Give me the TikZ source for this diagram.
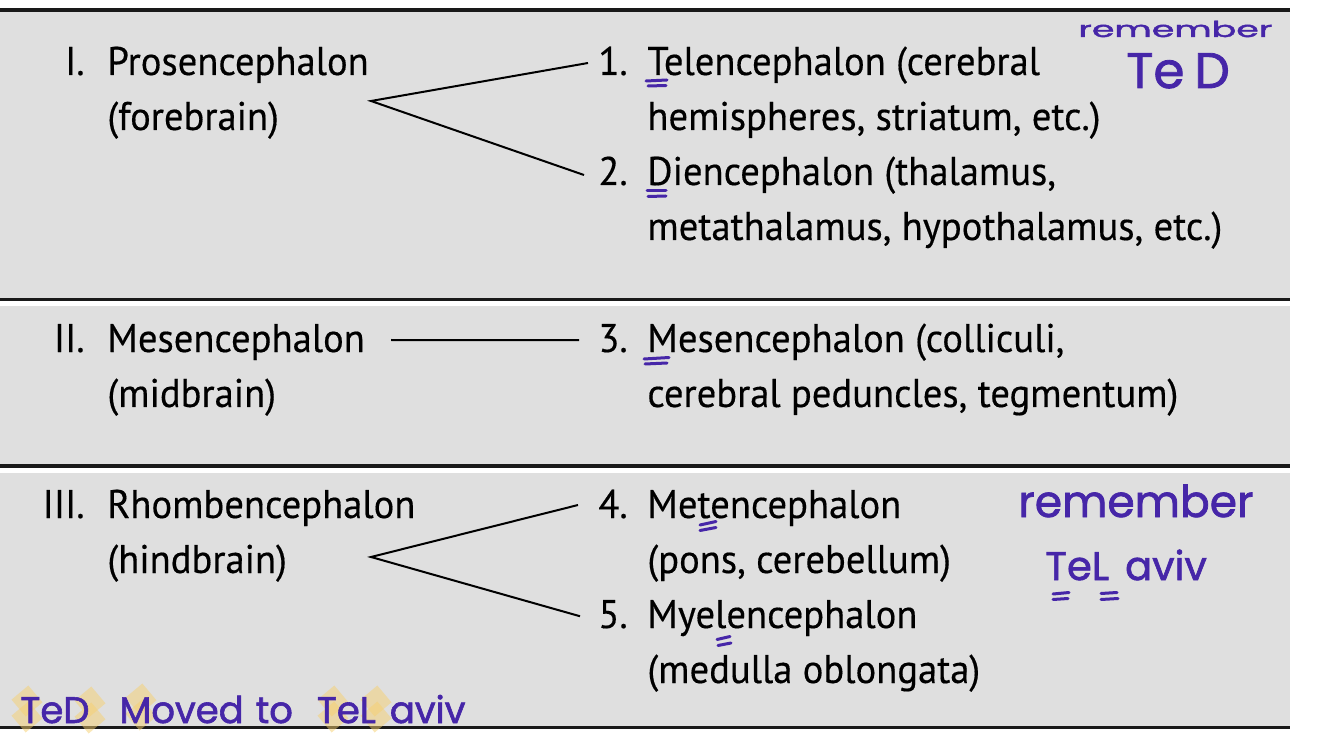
\documentclass[tikz,border=0pt]{standalone}
\usepackage{graphicx}
\usepackage{fontspec}
\setmainfont[FakeStretch=0.965,FakeBold=0.35]{PT Sans}
\newfontfamily\handfont[FakeBold=1.6]{Poppins}
\usetikzlibrary{calc}
\definecolor{bandgray}{RGB}{223,223,223}
\definecolor{ink}{RGB}{70,38,168}
\definecolor{hl}{RGB}{246,208,112}
\begin{document}
\begin{tikzpicture}[x=0.5pt,y=-0.5pt,
  txt/.style={anchor=base west,inner sep=0pt,font=\fontsize{20}{24}\selectfont},
  rnum/.style={anchor=base east,inner sep=0pt,font=\fontsize{20}{24}\selectfont},
  lnum/.style={anchor=base west,inner sep=0pt,font=\fontsize{20}{24}\selectfont},
  conn/.style={line width=1pt,black},
  sepline/.style={line width=1.75pt,black!90},
  inkstroke/.style={line width=1.5pt,ink,line cap=round},
  inktext/.style={anchor=base west,inner sep=0pt,text=ink},
  hlblob/.style={fill=hl,opacity=0.5}]
\useasboundingbox (0,0) rectangle (1334,743);
% bands
\fill[bandgray] (0,11) rectangle (1290,298);
\fill[bandgray] (0,306) rectangle (1290,464);
\fill[bandgray] (0,473) rectangle (1290,726);
\draw[sepline] (0,10) -- (1290,10);
\draw[sepline] (0,299.3) -- (1290,299.3);
\draw[sepline] (0,466) -- (1290,466);
\draw[sepline] (0,727.3) -- (1290,727.3);
% left column
\node[rnum] (r1) at (85,75) {I.};
\node[txt] (l1a) at (107,75) {Prosencephalon};
\node[txt] (l1b) at (107,130) {(forebrain)};
\node[rnum] (r2) at (85,352) {II.};
\node[txt] (l2a) at (107,352) {Mesencephalon};
\node[txt] (l2b) at (107,407) {(midbrain)};
\node[rnum] (r3) at (85,518) {III.};
\node[txt] (l3a) at (107,518) {Rhombencephalon};
\node[txt] (l3b) at (107,573) {(hindbrain)};
% right column
\node[lnum] (n1) at (598,75) {1.};
\node[txt] (t1a) at (647,75) {Telencephalon (cerebral};
\node[txt] (t1b) at (647,130) {hemispheres, striatum, etc.)};
\node[lnum] (n2) at (598,185) {2.};
\node[txt] (t2a) at (647,185) {Diencephalon (thalamus,};
\node[txt] (t2b) at (647,240) {metathalamus, hypothalamus, etc.)};
\node[lnum] (n3) at (598,352) {3.};
\node[txt] (t3a) at (647,352) {Mesencephalon (colliculi,};
\node[txt] (t3b) at (647,407) {cerebral peduncles, tegmentum)};
\node[lnum] (n4) at (598,518) {4.};
\node[txt] (t4a) at (647,518) {Metencephalon};
\node[txt] (t4b) at (647,573) {(pons, cerebellum)};
\node[lnum] (n5) at (598,628) {5.};
\node[txt] (t5a) at (647,628) {Myelencephalon};
\node[txt] (t5b) at (647,683) {(medulla oblongata)};
% connectors
\coordinate (v1) at (371,101);
\coordinate (m2) at (391,340);
\coordinate (v3) at (371,557);
\draw[conn] ($(n1.west)+(-10,2)$) -- (v1) -- ($(n2.west)+(-14,4)$);
\draw[conn] (m2) -- ($(n3.west)+(-19,2)$);
\draw[conn] ($(n4.west)+(-20,1)$) -- (v3) -- ($(n5.west)+(-18,2)$);
% ink underline marks
\draw[inkstroke] (646,81) -- (667,80);
\draw[inkstroke] (648,86) -- (666,85.5);
\draw[inkstroke] (647,191) -- (666,191);
\draw[inkstroke] (648,196.5) -- (666,196);
\draw[inkstroke] (644,359) -- (669,357.5);
\draw[inkstroke] (645,364) -- (667,363);
\draw[inkstroke] (700,525) -- (716,521.5);
\draw[inkstroke] (700,530.5) -- (716,527.5);
\draw[inkstroke] (717,639.5) -- (730,636.5);
\draw[inkstroke] (718,645.5) -- (731,643);
\draw[inkstroke] (1053,594) -- (1069,592.5);
\draw[inkstroke] (1053,599.5) -- (1068,598.5);
\draw[inkstroke] (1101,593.5) -- (1117,592.5);
\draw[inkstroke] (1101,599.5) -- (1118,598.5);
% highlight blobs
\foreach \cx/\cy in {27/709,90/710,141/707,333/709,376/709}{
  \fill[hlblob,rotate around={40:(\cx,\cy-8)}] (\cx-11,\cy-19) rectangle (\cx+11,\cy+3);
  \fill[hlblob,rotate around={40:(\cx,\cy+8)}] (\cx-11,\cy-3) rectangle (\cx+11,\cy+19);
}
% handwriting
\node[inktext,font=\handfont\fontsize{11}{13}\selectfont] (hw1) at (1078,37) {\scalebox{1.65}[1]{remember}};
\node[inktext,font=\handfont\fontsize{25}{28}\selectfont] (hw2) at (1126,88) {Te\kern5pt D};
\node[inktext,font=\handfont\fontsize{22}{26}\selectfont] (hw3) at (1018,517) {remember};
\node[inktext,font=\handfont\fontsize{20}{22}\selectfont] (hw4) at (1045,580) {TeL\hspace{8pt}aviv};
\node[inktext,font=\handfont\fontsize{18.5}{22}\selectfont] (hw5) at (20,723) {TeD\hspace{15pt}Moved\hspace{6pt}to\hspace{12pt}TeL\hspace{7pt}aviv};
\end{tikzpicture}
\end{document}
